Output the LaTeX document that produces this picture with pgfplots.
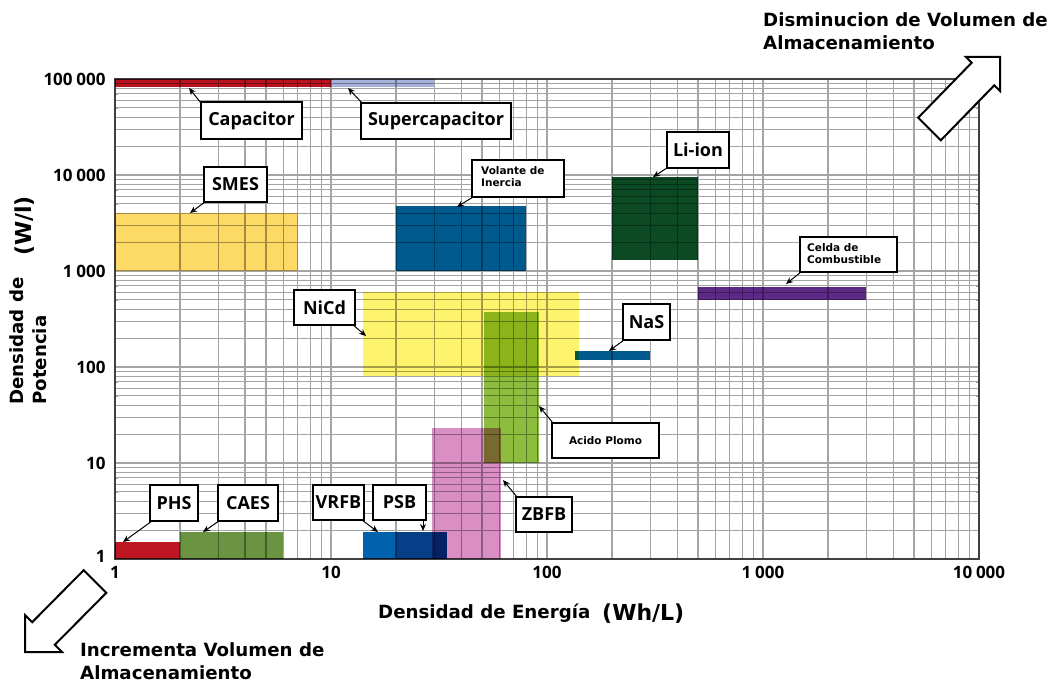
\documentclass[border=0pt]{standalone}
\usepackage{fontspec}
\usepackage{pgfplots}
\pgfplotsset{compat=1.18}
\usetikzlibrary{arrows.meta}
\newfontfamily\osans{Open Sans}
\newfontfamily\dvs{DejaVu Sans}
\definecolor{capred}{HTML}{B7121E}
\definecolor{supcap}{HTML}{A7B3DA}
\definecolor{smes}{HTML}{FDD966}
\definecolor{fly}{HTML}{005A8E}
\definecolor{liion}{HTML}{0C4A24}
\definecolor{fuel}{HTML}{5E2A87}
\definecolor{nicd}{HTML}{FEF36C}
\definecolor{acid}{HTML}{8CBD3F}
\definecolor{nas}{HTML}{005A8E}
\definecolor{zbfb}{HTML}{DA8FC4}
\definecolor{vrfb}{HTML}{0062AD}
\definecolor{psb}{HTML}{073E88}
\definecolor{phs}{HTML}{BE1622}
\definecolor{caes}{HTML}{6A9441}
\definecolor{gridgray}{HTML}{A4A4A4}
\tikzset{
  lbl/.style={draw=black, line width=1.3bp, fill=white, inner sep=0pt,
    font=\osans\bfseries\fontsize{18bp}{20bp}\selectfont},
  slbl/.style={draw=black, line width=1.3bp, fill=white, inner sep=0pt,
    font=\dvs\bfseries\fontsize{10.5bp}{12.5bp}\selectfont},
  arr/.style={-{Stealth[length=7bp,width=6bp]}, line width=1bp, black},
  bigtxt/.style={font=\dvs\bfseries\fontsize{18.2bp}{21bp}\selectfont, inner sep=0pt},
}
\begin{document}
\begin{tikzpicture}
\begin{axis}[
  at={(115bp,-559bp)}, anchor=south west,
  scale only axis, width=864bp, height=480bp,
  xmode=log, ymode=log, xmin=1, xmax=10000, ymin=1, ymax=100000,
  xtick={1,10,100,1000,10000},
  xticklabels={1,10,100,1\hspace{0.22em}000,10\hspace{0.22em}000},
  ytick={1,10,100,1000,10000,100000},
  yticklabels={\raisebox{5bp}{1},10,100,1\hspace{0.22em}000,10\hspace{0.22em}000,\raisebox{-5bp}{100\hspace{0.22em}000}},
  grid=both,
  major grid style={draw=gridgray, line width=1.1bp},
  minor grid style={draw=gridgray, line width=1.1bp},
  axis line style={draw=black!75, line width=1.4bp},
  tick style={draw=gridgray},
  major tick length=3bp, minor tick length=3bp,
  ticklabel style={font=\osans\bfseries\fontsize{17bp}{19bp}\selectfont},
  yticklabel style={xshift=-6bp},
  xticklabel style={yshift=-4bp},
  every axis plot/.append style={draw=none, mark=none, blend mode=multiply},
]
% Capacitor
\addplot[fill=capred] coordinates {(1,82000) (10,82000) (10,100000) (1,100000)};
% Supercapacitor
\addplot[fill=supcap] coordinates {(10,82000) (30,82000) (30,100000) (10,100000)};
% SMES
\addplot[fill=smes] coordinates {(1,1000) (7,1000) (7,4000) (1,4000)};
% Volante de Inercia
\addplot[fill=fly] coordinates {(20,1000) (80,1000) (80,4800) (20,4800)};
% Li-ion
\addplot[fill=liion] coordinates {(200,1300) (500,1300) (500,9500) (200,9500)};
% Celda de Combustible
\addplot[fill=fuel] coordinates {(500,500) (3000,500) (3000,680) (500,680)};
% NiCd
\addplot[fill=nicd] coordinates {(14,80) (140,80) (140,600) (14,600)};
% NaS
\addplot[fill=nas] coordinates {(135,118) (300,118) (300,148) (135,148)};
% Acido Plomo
\addplot[fill=acid] coordinates {(51,10) (92,10) (92,370) (51,370)};
% ZBFB
\addplot[fill=zbfb] coordinates {(29.5,1) (61,1) (61,23) (29.5,23)};
% VRFB
\addplot[fill=vrfb] coordinates {(14,1) (20,1) (20,1.9) (14,1.9)};
% PSB
\addplot[fill=psb] coordinates {(20,1) (34.5,1) (34.5,1.9) (20,1.9)};
% PHS
\addplot[fill=phs] coordinates {(1,1) (2,1) (2,1.5) (1,1.5)};
% CAES
\addplot[fill=caes] coordinates {(2,1) (6,1) (6,1.9) (2,1.9)};
\end{axis}
\begin{scope}[x=1bp, y=-1bp]
\useasboundingbox (0,0) rectangle (1058,683);
% arrows
\draw[arr] (201,103) -- (189,88);
\draw[arr] (362,103) -- (348,88);
\draw[arr] (205,202) -- (190,213);
\draw[arr] (473,197) -- (457,207);
\draw[arr] (667,168) -- (653,177);
\draw[arr] (801,272) -- (786,284);
\draw[arr] (352,324) -- (366,336);
\draw[arr] (624,340) -- (609,351);
\draw[arr] (553,423) -- (539,406);
\draw[arr] (517,497) -- (503,480);
\draw[arr] (423,520) -- (423,531);
\draw[arr] (362,520) -- (378,532);
\draw[arr] (152,521) -- (123,542);
\draw[arr] (219,521) -- (203,532);
% boxes
\node[lbl, minimum width=101bp, minimum height=37bp] at (251.5,120.5) {Capacitor};
\node[lbl, minimum width=150bp, minimum height=36bp] at (436,121) {Supercapacitor};
\node[lbl, minimum width=63bp, minimum height=35bp] at (235.5,184.5) {SMES};
\node[lbl, minimum width=62bp, minimum height=36bp] at (698,150) {Li-ion};
\node[lbl, minimum width=61bp, minimum height=35bp] at (324.5,307.5) {NiCd};
\node[lbl, minimum width=47bp, minimum height=36bp] at (646.5,322) {NaS};
\node[lbl, minimum width=56bp, minimum height=35bp] at (544,514.5) {ZBFB};
\node[lbl, minimum width=51bp, minimum height=35bp] at (338.5,502.5) {VRFB};
\node[lbl, minimum width=53bp, minimum height=35bp] at (399.5,502.5) {PSB};
\node[lbl, minimum width=48bp, minimum height=36bp] at (174,503) {PHS};
\node[lbl, minimum width=60bp, minimum height=36bp] at (248,503) {CAES};
\node[slbl, minimum width=92bp, minimum height=37bp] at (518,178.5) {};
\node[font=\dvs\bfseries\fontsize{10.5bp}{12.5bp}\selectfont, anchor=north west, align=left, inner sep=0pt] at (481,166) {Volante de\\Inercia};
\node[slbl, minimum width=97bp, minimum height=35bp] at (848.5,254.5) {};
\node[font=\dvs\bfseries\fontsize{10.5bp}{12.5bp}\selectfont, anchor=north west, align=left, inner sep=0pt] at (807,243) {Celda de\\Combustible};
\node[slbl, minimum width=107bp, minimum height=35bp] at (605.5,440.5) {Acido Plomo};
% axis titles
\node[bigtxt, anchor=west] at (378,613) {Densidad de Energía};
\node[font=\dvs\bfseries\fontsize{22bp}{24bp}\selectfont, inner sep=0pt, anchor=west] at (602,614) {(Wh/L)};
\node[bigtxt, rotate=90, anchor=west] at (17,405) {Densidad de};
\node[bigtxt, rotate=90, anchor=west] at (40,405) {Potencia};
\node[font=\dvs\bfseries\fontsize{22bp}{24bp}\selectfont, inner sep=0pt, rotate=90] at (25,226) {(W/l)};
% corner texts
\node[bigtxt, anchor=base west] at (763,27) {Disminucion de Volumen de};
\node[bigtxt, anchor=base west] at (763,50) {Almacenamiento};
\node[bigtxt, anchor=base west] at (80,656) {Incrementa Volumen de};
\node[bigtxt, anchor=base west] at (80,679) {Almacenamiento};
% big arrows
\draw[line width=2bp, fill=white, line join=miter] (1000,57) -- (966,57) -- (971.7,62.7) -- (918.2,117.7) -- (940.8,140.3) -- (994.3,85.3) -- (1000,91) -- cycle;
\draw[line width=2bp, fill=white, line join=miter] (25,652) -- (25,615) -- (32.2,622.2) -- (83.7,570.2) -- (106.3,592.8) -- (54.8,644.8) -- (62,652) -- cycle;
\end{scope}
\end{tikzpicture}
\end{document}
